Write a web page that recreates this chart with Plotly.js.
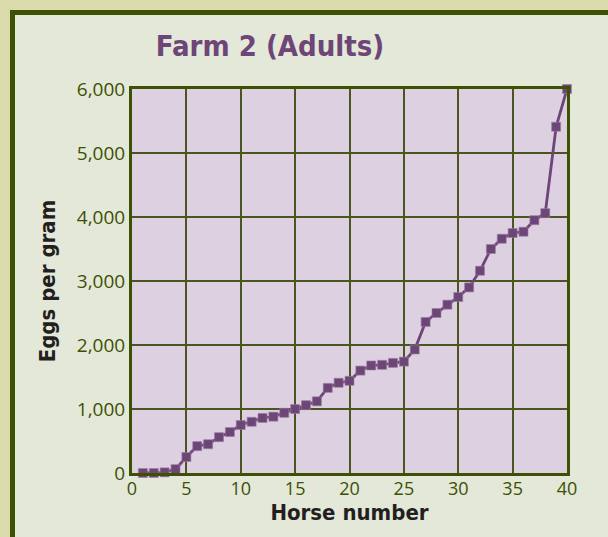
<!DOCTYPE html>
<html>
<head>
<meta charset="utf-8">
<script src="https://cdn.plot.ly/plotly-3.0.1.min.js"></script>
<style>html,body{margin:0;padding:0;background:#e3e8d8;}#chart{width:608px;height:537px;}</style>
</head>
<body>
<div id="chart"></div>
<script>
const horseNumber = [1,2,3,4,5,6,7,8,9,10,11,12,13,14,15,16,17,18,19,20,21,22,23,24,25,26,27,28,29,30,31,32,33,34,35,36,37,38,39,40];
const eggsPerGram = [0,0,10,60,250,420,450,560,640,750,800,860,880,940,1000,1060,1120,1330,1410,1440,1600,1680,1690,1720,1740,1930,2360,2500,2630,2750,2900,3160,3500,3660,3750,3770,3950,4060,5410,6000];
const xTickVals = [0,5,10,15,20,25,30,35,40];
const yTickVals = [0,1000,2000,3000,4000,5000,6000];
const yTickText = ['0','1,000','2,000','3,000','4,000','5,000','6,000'];

const W = 608, H = 537, L = 132, R = 41, T = 89, B = 64;
const pw = W - L - R, ph = H - T - B;
const px = v => (v - L) / pw;
const py = v => (H - B - v) / ph;

const tan = '#d9dbac', frame = '#3d5004', inner = '#e3e8d8';
const olive = '#3d5004', grid = '#4a5520', purple = '#6d4677';
const narrow = '"Liberation Sans Narrow", "Arial Narrow", "Noto Sans Condensed", "DejaVu Sans Condensed", sans-serif';

const trace = {
  x: horseNumber,
  y: eggsPerGram,
  type: 'scatter',
  mode: 'lines+markers',
  line: {color: purple, width: 2.8},
  marker: {symbol: 'square', size: 9, color: purple, line: {color: '#9a7ea3', width: 0.6}},
  cliponaxis: false,
  hoverinfo: 'skip'
};

const shapes = [
  {type:'rect', xref:'paper', yref:'paper', x0:px(0), x1:px(10), y0:py(H), y1:py(0), fillcolor:tan, line:{width:0}, layer:'below'},
  {type:'rect', xref:'paper', yref:'paper', x0:px(0), x1:px(W), y0:py(10), y1:py(0), fillcolor:tan, line:{width:0}, layer:'below'},
  {type:'rect', xref:'paper', yref:'paper', x0:px(10), x1:px(15), y0:py(H), y1:py(10), fillcolor:frame, line:{width:0}, layer:'below'},
  {type:'rect', xref:'paper', yref:'paper', x0:px(10), x1:px(W), y0:py(15), y1:py(10), fillcolor:frame, line:{width:0}, layer:'below'}
];

const layout = {
  width: W, height: H,
  margin: {l: L, r: R, t: T, b: B, pad: 0},
  paper_bgcolor: inner,
  plot_bgcolor: '#dcd0e1',
  showlegend: false,
  title: {
    text: '<b>Farm 2 (Adults)</b>',
    font: {family: narrow, size: 29, color: purple},
    x: 270 / W, xref: 'container', xanchor: 'center',
    y: 1 - 46 / H, yref: 'container', yanchor: 'middle'
  },
  xaxis: {
    range: [0, 40],
    tickmode: 'array', tickvals: xTickVals, ticktext: xTickVals.map(String),
    ticks: '', showgrid: true, gridcolor: grid, gridwidth: 2,
    zeroline: false, showline: true, linecolor: olive, linewidth: 3, mirror: true,
    tickfont: {family: '"Open Sans", sans-serif', size: 18, color: olive},
    ticklabelstandoff: -3,
    title: {text: '<b>Horse number</b>', font: {family: narrow, size: 22, color: '#231f20'}, standoff: 3},
    fixedrange: true
  },
  yaxis: {
    range: [0, 6000],
    tickmode: 'array', tickvals: yTickVals, ticktext: yTickText,
    ticks: '', showgrid: true, gridcolor: grid, gridwidth: 2,
    zeroline: false, showline: true, linecolor: olive, linewidth: 3, mirror: true,
    tickfont: {family: '"Open Sans", sans-serif', size: 19, color: olive},
    title: {text: '<b>Eggs per gram</b>', font: {family: narrow, size: 22, color: '#231f20'}, standoff: 16},
    fixedrange: true
  },
  shapes: shapes
};

Plotly.newPlot('chart', [trace], layout, {displayModeBar: false, staticPlot: true});
</script>
</body>
</html>
